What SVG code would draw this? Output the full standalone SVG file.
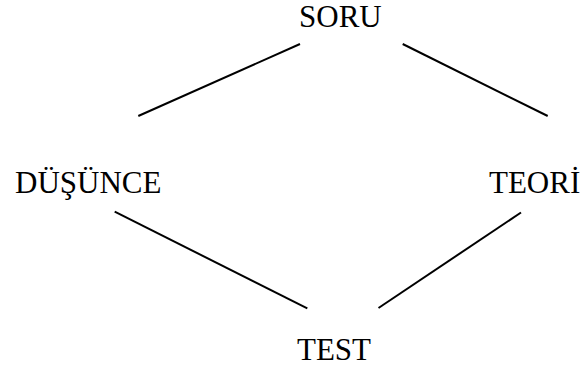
<svg xmlns="http://www.w3.org/2000/svg" width="580" height="366" viewBox="0 0 580 366">
<style>
.t{font-family:"Liberation Serif","Times New Roman",serif;font-size:31px;fill:#000}
.c line{stroke:#000;stroke-width:2;fill:none}
</style>
<rect width="580" height="366" fill="#fff"/>
<g class="c" id="connectors">
<line x1="300" y1="44" x2="138.3" y2="116"/>
<line x1="402.7" y1="44" x2="547.7" y2="116"/>
<line x1="114.7" y1="211.7" x2="307.3" y2="308.3"/>
<line x1="378.5" y1="308" x2="521" y2="212.5"/>
</g>
<g id="soru"><text class="t" x="299" y="27">SORU</text></g>
<g id="dusunce"><text class="t" x="15" y="193">DÜŞÜNCE</text></g>
<g id="teori"><text class="t" x="489" y="193">TEORİ</text></g>
<g id="test"><text class="t" x="297" y="359.5">TEST</text></g>
</svg>
